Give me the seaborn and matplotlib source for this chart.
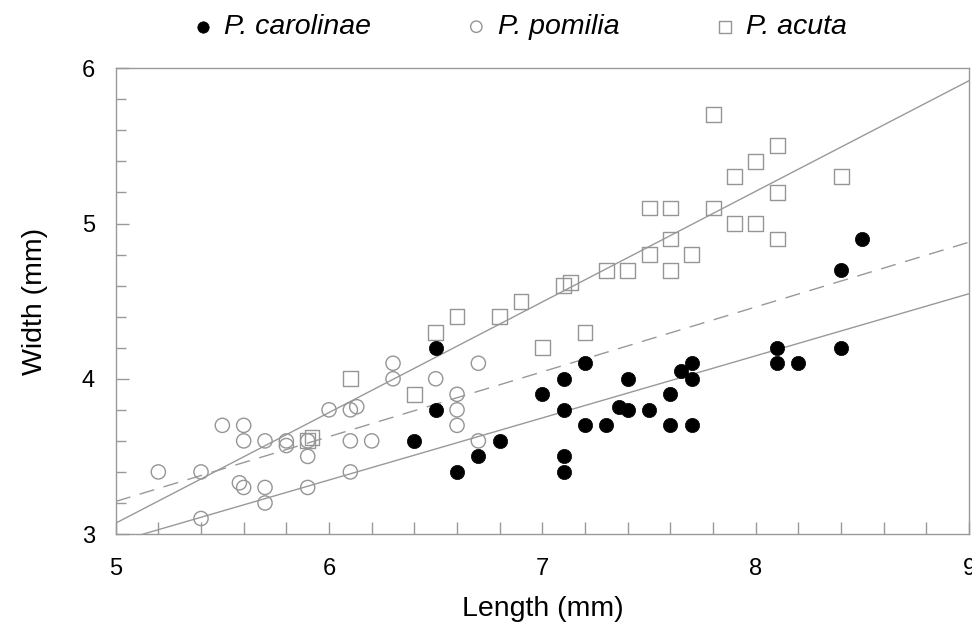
import numpy as np
import pandas as pd
import seaborn as sns
import matplotlib.pyplot as plt
from matplotlib.ticker import MultipleLocator

# P. carolinae (filled circles)
carLen = [6.4, 6.5, 6.5, 6.6, 6.7, 6.8, 7.0, 7.1, 7.1, 7.1, 7.1, 7.2, 7.2, 7.3, 7.36,
          7.4, 7.4, 7.5, 7.6, 7.6, 7.65, 7.7, 7.7, 7.7, 8.1, 8.1, 8.2, 8.4, 8.4, 8.5]
carWid = [3.6, 4.2, 3.8, 3.4, 3.5, 3.6, 3.9, 4.0, 3.8, 3.5, 3.4, 4.1, 3.7, 3.7, 3.82,
          4.0, 3.8, 3.8, 3.9, 3.7, 4.05, 4.1, 4.0, 3.7, 4.2, 4.1, 4.1, 4.7, 4.2, 4.9]

# P. pomilia (open circles)
pomLen = [5.2, 5.4, 5.4, 5.5, 5.6, 5.6, 5.58, 5.6, 5.7, 5.7, 5.7, 5.8, 5.8, 5.9, 5.9,
          5.9, 6.0, 6.1, 6.13, 6.1, 6.1, 6.2, 6.3, 6.3, 6.5, 6.6, 6.6, 6.6, 6.7, 6.7]
pomWid = [3.4, 3.4, 3.1, 3.7, 3.7, 3.6, 3.33, 3.3, 3.6, 3.3, 3.2, 3.6, 3.57, 3.6, 3.5,
          3.3, 3.8, 3.8, 3.82, 3.6, 3.4, 3.6, 4.1, 4.0, 4.0, 3.9, 3.8, 3.7, 4.1, 3.6]

# P. acuta (open squares)
acuLen = [5.9, 5.92, 6.1, 6.4, 6.5, 6.6, 6.8, 6.9, 7.0, 7.1, 7.13, 7.2, 7.3, 7.4, 7.5,
          7.5, 7.6, 7.6, 7.6, 7.7, 7.8, 7.8, 7.9, 7.9, 8.0, 8.0, 8.1, 8.1, 8.1, 8.4]
acuWid = [3.6, 3.62, 4.0, 3.9, 4.3, 4.4, 4.4, 4.5, 4.2, 4.6, 4.62, 4.3, 4.7, 4.7, 4.8,
          5.1, 4.7, 4.9, 5.1, 4.8, 5.1, 5.7, 5.0, 5.3, 5.0, 5.4, 4.9, 5.2, 5.5, 5.3]

# fitted lines: width = a + b * (length - 5)
fitNames = ["carolinae", "pomilia", "acuta"]
fitA = [2.948, 3.21, 3.07]
fitB = [0.40, 0.4175, 0.7125]

sns.set_style("ticks")
plt.rcParams["font.family"] = ["Liberation Sans", "DejaVu Sans"]
plt.rcParams["text.color"] = "black"
plt.rcParams["axes.labelcolor"] = "black"
plt.rcParams["xtick.labelcolor"] = "black"
plt.rcParams["ytick.labelcolor"] = "black"

fig, ax = plt.subplots(figsize=(9.72, 6.32), dpi=100)
fig.subplots_adjust(left=0.119, right=0.997, bottom=0.155, top=0.892)

grey = "#999999"
xs = np.array([5.0, 9.0])
for name, a, b in zip(fitNames, fitA, fitB):
    lineDf = pd.DataFrame({"x": xs, "y": a + b * (xs - 5.0)})
    ls = (0, (11, 7)) if name == "pomilia" else "-"
    sns.lineplot(ax=ax, data=lineDf, x="x", y="y", color=grey, lw=1.0,
                 linestyle=ls, zorder=1)

carDf = pd.DataFrame({"L": carLen, "W": carWid})
pomDf = pd.DataFrame({"L": pomLen, "W": pomWid})
acuDf = pd.DataFrame({"L": acuLen, "W": acuWid})

sns.scatterplot(ax=ax, data=acuDf, x="L", y="W", marker="s", s=115,
                facecolor="none", edgecolor="#959595", linewidth=1.0,
                label="P. acuta", zorder=3)
sns.scatterplot(ax=ax, data=pomDf, x="L", y="W", marker="o", s=105,
                facecolor="none", edgecolor="#959595", linewidth=1.0,
                label="P. pomilia", zorder=3)
sns.scatterplot(ax=ax, data=carDf, x="L", y="W", marker="o", s=105,
                color="black", edgecolor="black", linewidth=0.5,
                label="P. carolinae", zorder=4)

ax.set_xlim(5, 9)
ax.set_ylim(3, 6)
ax.xaxis.set_major_locator(MultipleLocator(1))
ax.xaxis.set_minor_locator(MultipleLocator(0.2))
ax.yaxis.set_major_locator(MultipleLocator(1))
ax.yaxis.set_minor_locator(MultipleLocator(0.2))
ax.tick_params(axis="x", which="both", direction="in", length=9, width=1,
               color=grey, labelsize=17, pad=17)
ax.tick_params(axis="y", which="major", direction="in", length=9, width=1,
               color=grey, labelsize=17, pad=15)
ax.tick_params(axis="y", which="minor", direction="in", length=7, width=1, color=grey)
for sp in ax.spines.values():
    sp.set_visible(True)
    sp.set_color(grey)
    sp.set_linewidth(1.0)

ax.set_xlabel("Length (mm)", fontsize=20.5, labelpad=12)
ax.set_ylabel("Width (mm)", fontsize=20.5, labelpad=24)

handles, labels = ax.get_legend_handles_labels()
ax.get_legend().remove()
order = [2, 1, 0]
leg = fig.legend([handles[i] for i in order], [labels[i] for i in order],
                 loc="center", bbox_to_anchor=(0.534, 0.957), ncol=3,
                 frameon=False, markerscale=0.8, handlelength=0.8,
                 handletextpad=0.35, columnspacing=3.3,
                 prop={"size": 20.5, "style": "italic"})

fig.savefig("out.png", dpi=100)
